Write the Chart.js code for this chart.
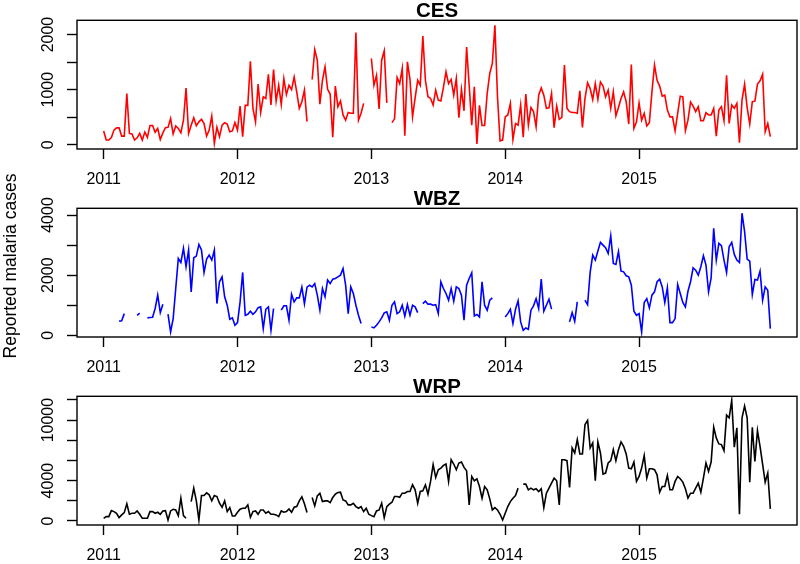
<!DOCTYPE html>
<html>
<head>
<meta charset="utf-8">
<script src="https://cdn.jsdelivr.net/npm/chart.js@4/dist/chart.umd.min.js"></script>
<style>
html, body { margin: 0; padding: 0; background: #ffffff; }
#wrap { position: relative; width: 800px; height: 564px; overflow: hidden; background: #ffffff; }
canvas { position: absolute; left: 0; }
#ylab {
  position: absolute; left: -140px; top: 256px; width: 300px; height: 20px;
  line-height: 20px; text-align: center; transform: rotate(-90deg);
  font-family: "Liberation Sans", Arial, Helvetica, sans-serif; font-size: 17.5px; color: #000;
  white-space: nowrap;
}
</style>
</head>
<body>
<div id="wrap">
  <canvas id="c1" width="800" height="188" style="top:0px"></canvas>
  <canvas id="c2" width="800" height="188" style="top:188px"></canvas>
  <canvas id="c3" width="800" height="188" style="top:376px"></canvas>
  <div id="ylab">Reported malaria cases</div>
</div>
<script>
// ---------- data (weekly series, 52 weeks per year, starting 2011) ----------
const startYear = 2011;
const weeksPerYear = 52;
const yearTicks = [2011, 2012, 2013, 2014, 2015];

const panelTitles = ["CES", "WBZ", "WRP"];

const ces = [
  250, 85, 85, 130, 265, 305, 305, 155, 155, 930,
  205, 195, 85, 125, 205, 85, 230, 135, 350, 350,
  225, 295, 95, 215, 310, 315, 475, 195, 340, 295,
  215, 445, 1030, 205, 355, 490, 345, 415, 460, 385,
  155, 265, 520, 25, 315, 145, 355, 400, 375, 235,
  250, 400, 265, 700, 145, 715, 715, 1515, 660, 415,
  1100, 585, 870, 840, 1280, 720, 1365, 790, 1080, 730,
  1200, 910, 1080, 1000, 1230, 960, 660, 780, 990, 420,
  null, 1185, 1725, 1535, 735, 1170, 1415, 1005, 920, 135,
  1065, 690, 795, 540, 445, 585, 570, 570, 2035, 445,
  570, 750, null, null, 1565, 1080, 1260, 650, 1535, 1705,
  760, null, 400, 470, 1220, 1110, 1385, 165, 1505, 1185,
  505, 850, 1170, 1080, 1975, 1170, 870, 840, 720, 990,
  810, 795, 1040, 1325, 1110, 1185, 900, 1200, 490, 1005,
  615, 1775, 1080, 355, 1050, 15, 715, 350, 350, 930,
  1295, 1475, 2170, 870, 70, 85, 505, 540, 750, 95,
  385, 355, 720, 135, 920, 355, 675, 600, 325, 900,
  1030, 900, 660, 670, 930, 310, 700, 460, 495, 1445,
  660, 600, 585, 585, 570, 980, 315, 840, 1125, 1020,
  820, 1110, 825, 1140, 1065, 870, 990, 660, 960, 525,
  675, 840, 960, 780, 375, 1455, 295, 415, 760, 445,
  570, 340, 400, 960, 1445, 1170, 1065, 880, 900, 630,
  505, 505, 250, 570, 880, 870, 255, 445, 775, 700,
  600, 690, 435, 435, 580, 540, 540, 660, 155, 630,
  690, 435, 1260, 385, 720, 660, 750, 35, 810, 1100,
  675, 375, 780, 790, 1100, 1160, 1280, 235, 385, 145
];

const wbz = [
  null, null, null, null, null, null, 470, 480, 720, null,
  null, null, null, 665, 735, null, null, 580, 590, 600,
  890, 1335, 755, 1035, null, 700, 110, 555, 1555, 2555,
  2420, 2890, 2280, 2835, 1445, 2580, 2635, 3020, 2835, 2090,
  2535, 2665, 2500, 2835, 1055, 1780, 1945, 1280, 1000, 535,
  580, 335, 420, 1110, 2090, 665, 700, 800, 700, 780,
  920, 945, 220, 865, 945, 165, 890, null, null, 835,
  980, 980, 500, 1365, 1110, 1245, 1245, 1600, 1050, 1600,
  1665, 1610, 1720, 1335, 835, 1555, 1280, 1835, 1720, 1865,
  1890, 1945, 2000, 2220, 1665, 720, 1610, 1390, 1000, 665,
  390, null, null, null, 280, 245, 335, 445, 580, 745,
  780, 500, 1000, 1110, 720, 780, 1000, 635, 1020, 665,
  1000, 945, 755, null, 1055, 1135, 1035, 1035, 1000, 1020,
  720, 1780, 1555, 1390, 1165, 1555, 1135, 1610, 1555, 1335,
  500, 1665, 1890, 2080, 645, 690, 610, 1780, 1000, 835,
  1165, 1245, null, null, null, null, 610, 720, 865, 390,
  865, 1145, 445, 165, 245, 200, 835, 980, 1220, 890,
  1870, 800, 1000, 1200, 870, null, null, null, null, null,
  null, 445, 755, 465, 1110, null, null, 1165, 1020, 2090,
  2665, 2500, 2800, 3090, 3000, 2910, 2720, 3310, 2390, 2355,
  2780, 2135, 2110, 1980, 1945, 1665, 800, 665, 720, 110,
  1090, 1220, 910, 1335, 1445, 1780, 1865, 1610, 1090, 1580,
  420, 420, 555, 1690, 1390, 1090, 945, 1465, 1780, 2245,
  2165, 2000, 2280, 2645, 2335, 1445, 1910, 3555, 2500, 3055,
  2980, 2500, 2090, 2945, 3090, 2690, 2500, 2420, 4060, 3445,
  2535, 2465, 1355, 1855, 1835, 2135, 1165, 1610, 1500, 220
];

const wrp = [
  265, 430, 430, 1030, 930, 765, 330, 600, 830, 1695,
  665, 765, 765, 995, 665, 265, 265, 265, 930, 930,
  765, 865, 665, 995, 1030, 100, 995, 1160, 1095, 530,
  2260, 530, 265, null, 1925, 3255, 1990, 100, 2525, 2525,
  2790, 2590, 1990, 2525, 2425, 1760, 1360, 1990, 930, 1330,
  500, 500, 865, 1160, 1260, 1260, 1595, 365, 930, 995,
  665, 1095, 1095, 765, 930, 665, 665, 600, 430, 995,
  865, 930, 1195, 865, 1360, 1430, 1990, 2400, 1700, 850,
  null, 2325, 1495, 2490, 2755, 1925, 1990, 1990, 1825, 2325,
  2655, 2820, 2855, 2090, 1990, 1595, 1595, 1760, 1430, 1260,
  1430, 930, 1260, 665, 530, 430, 995, 1095, 1760, 330,
  1430, 1660, 1860, 2425, 2425, 2355, 2755, 2755, 2920, 2920,
  3585, 3090, 1760, 2920, 2990, 3585, 2655, 3920, 5580, 4315,
  5080, 5245, 5510, 5645, 3920, 6075, 5645, 5080, 5745, 5845,
  5310, 4980, 1595, 4415, 3985, 4185, 3420, 2260, 3420, 3090,
  2190, 1095, 1330, 1095, 665, 100, 765, 1430, 1925, 2260,
  2525, 3255, null, 3650, 3650, 3090, 3255, 3090, 3190, 2920,
  3190, 1330, 2755, 3255, 3750, 4250, 3985, 1595, 6075, 6075,
  5975, 3320, 7240, 6740, 8070, 6640, 6640, 9560, 9960, 7240,
  7735, 3985, 7835, 6740, 4650, 4750, 5745, 5975, 7070, 5975,
  7070, 7835, 7405, 6640, 5245, 5180, 5845, 3920, 4415, 5245,
  6475, 4250, 5180, 5180, 5080, 4580, 2855, 3420, 3420, 4515,
  3090, 3090, 3920, 4415, 4185, 3850, 3190, 2260, 2755, 2755,
  3255, 3750, 2855, 4250, 5745, 4915, 5845, 9295, 8235, 7635,
  7570, 6970, 10490, 10225, 11950, 7305, 9230, 665, 10225, 11390,
  10225, 3850, 9295, 5910, 8965, 7405, 5645, 3850, 4750, 1195
];

// y-axis tick values and which of them carry a label
const cesTicks = [0, 500, 1000, 1500, 2000];
const cesLabels = [0, 1000, 2000];
const wbzTicks = [0, 1000, 2000, 3000, 4000];
const wbzLabels = [0, 2000, 4000];
const wrpTicks = [0, 2000, 4000, 6000, 8000, 10000, 12000];
const wrpLabels = [0, 4000, 10000];

// ---------- drawing ----------
const FONT = '"Liberation Sans", Arial, Helvetica, sans-serif';
const TICK_SIZE = 16;

const framePlugin = {
  id: 'frame',
  afterDatasetsDraw(chart) {
    const { ctx, chartArea: a } = chart;
    ctx.save();
    ctx.strokeStyle = '#000';
    ctx.lineWidth = 1.4;
    ctx.strokeRect(a.left, a.top, a.right - a.left, a.bottom - a.top);
    ctx.restore();
  }
};

function measure(text) {
  const c = document.createElement('canvas').getContext('2d');
  c.font = TICK_SIZE + 'px ' + FONT;
  return c.measureText(text).width;
}

function makePanel(id, title, values, color, yMin, yMax, yTicks, yLabels) {
  const points = values.map((v, i) => ({ x: startYear + i / weeksPerYear, y: v }));
  const widest = Math.max(...yLabels.map(v => measure(String(v))));
  const yPad = 18.7 - widest / 2;
  return new Chart(document.getElementById(id), {
    type: 'line',
    data: {
      datasets: [{
        data: points,
        borderColor: color,
        borderWidth: 1.6,
        pointRadius: 0,
        pointHoverRadius: 0,
        tension: 0,
        fill: false,
        spanGaps: false
      }]
    },
    options: {
      responsive: false,
      animation: false,
      devicePixelRatio: 1,
      events: [],
      layout: { padding: { left: 0, right: 3, top: 0, bottom: 0 } },
      plugins: {
        legend: { display: false },
        tooltip: { enabled: false },
        title: {
          display: true,
          text: title,
          color: '#000',
          fullSize: false,
          font: { family: FONT, size: 20.5, weight: 'bold', lineHeight: '17px' },
          padding: { top: 3.3, bottom: 0 }
        }
      },
      scales: {
        x: {
          type: 'linear',
          min: 2010.8008,
          max: 2016.18,
          afterBuildTicks: s => { s.ticks = yearTicks.map(v => ({ value: v })); },
          afterFit: s => { s.height = 39; },
          border: { display: false },
          grid: { display: true, drawOnChartArea: false, drawTicks: true, tickLength: 10, tickWidth: 1.4, tickColor: '#000' },
          ticks: {
            color: '#000', font: { family: FONT, size: TICK_SIZE },
            padding: 10.6, autoSkip: false, maxRotation: 0, minRotation: 0,
            callback: v => String(v)
          }
        },
        y: {
          type: 'linear',
          min: yMin,
          max: yMax,
          afterBuildTicks: s => { s.ticks = yTicks.map(v => ({ value: v })); },
          afterFit: s => { s.width = 77; },
          border: { display: false },
          grid: { display: true, drawOnChartArea: false, drawTicks: true, tickLength: 10, tickWidth: 1.4, tickColor: '#000' },
          ticks: {
            color: '#000', font: { family: FONT, size: TICK_SIZE },
            autoSkip: false, minRotation: 90, maxRotation: 90, crossAlign: 'center',
            padding: yPad,
            callback: v => (yLabels.includes(v) ? String(v) : '')
          }
        }
      }
    },
    plugins: [framePlugin]
  });
}

makePanel('c1', panelTitles[0], ces, '#ff0000', -78, 2259, cesTicks, cesLabels);
makePanel('c2', panelTitles[1], wbz, '#0000ff', -57, 4223, wbzTicks, wbzLabels);
makePanel('c3', panelTitles[2], wrp, '#000000', -398, 12356, wrpTicks, wrpLabels);
</script>
</body>
</html>
